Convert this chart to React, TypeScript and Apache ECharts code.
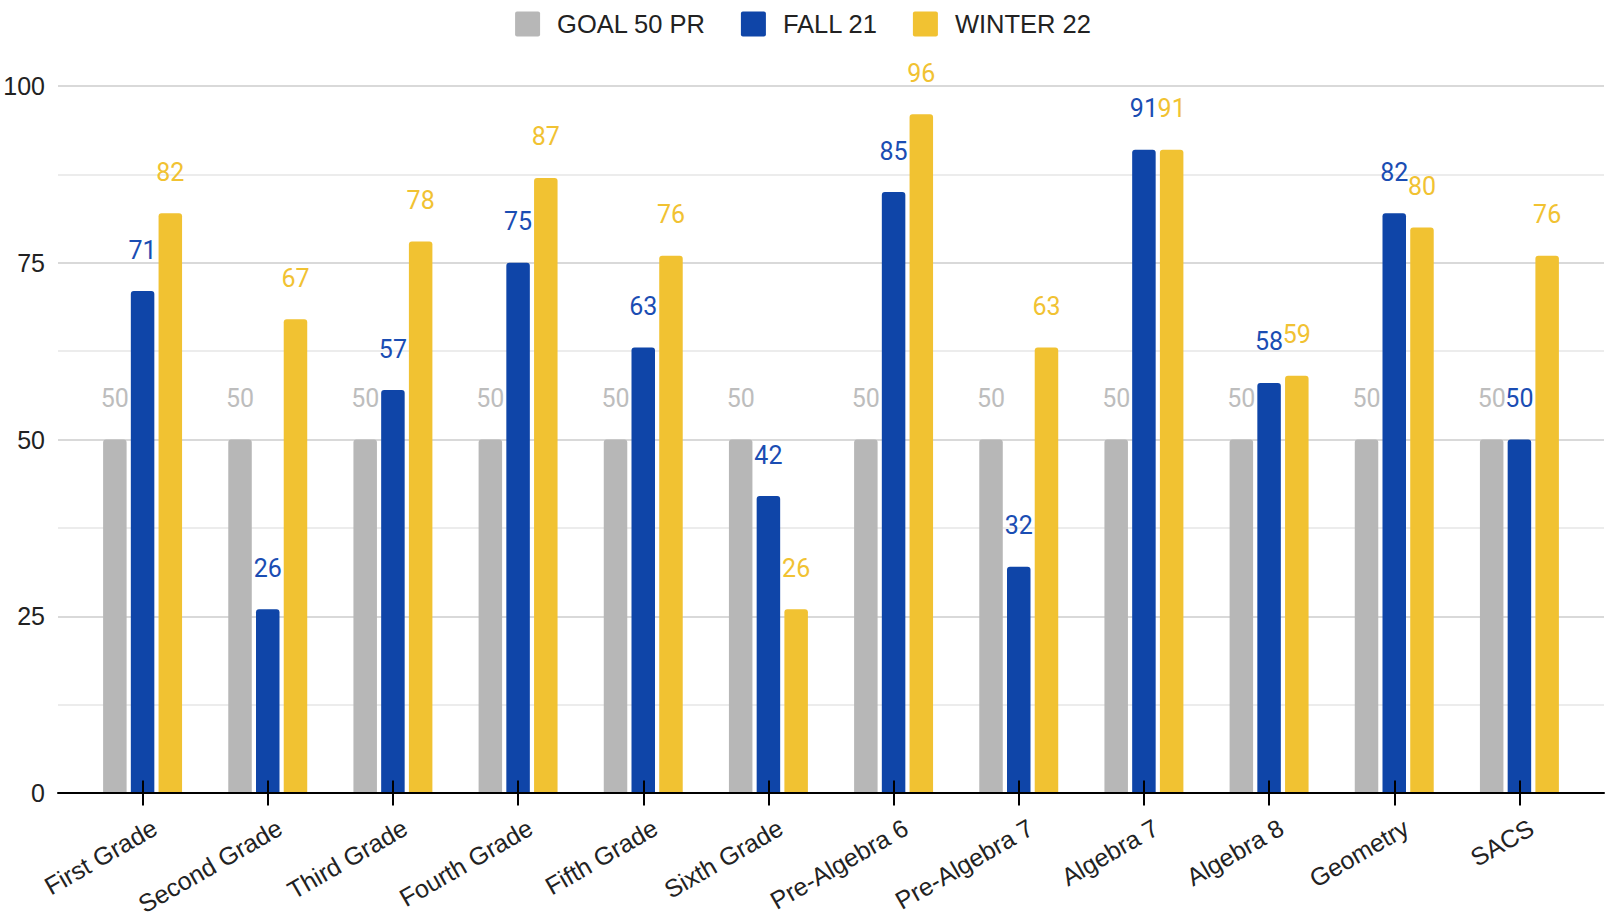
import React, { useEffect, useRef } from "react";
import * as echarts from "echarts";

const categories = [
  "First Grade", "Second Grade", "Third Grade", "Fourth Grade", "Fifth Grade", "Sixth Grade",
  "Pre-Algebra 6", "Pre-Algebra 7", "Algebra 7", "Algebra 8", "Geometry", "SACS",
];
const goal = [50, 50, 50, 50, 50, 50, 50, 50, 50, 50, 50, 50];
const fall21 = [71, 26, 57, 75, 63, 42, 85, 32, 91, 58, 82, 50];
const winter22 = [82, 67, 78, 87, 76, 26, 96, 63, 91, 59, 80, 76];
const seriesNames = ["GOAL 50 PR", "FALL 21", "WINTER 22"];

const GREY = "#b7b7b7";
const BLUE = "#0f45a8";
const YELLOW = "#f1c232";

const ICON = "path://M2,0 H23 Q25,0 25,2 V23 Q25,25 23,25 H2 Q0,25 0,23 V2 Q0,0 2,0 Z";

export default function App() {
  const ref = useRef<HTMLDivElement>(null);
  useEffect(() => {
    if (!ref.current) return;
    const chart = echarts.init(ref.current, undefined, { renderer: "svg" });
    const barCommon = (name: string, data: number[], color: string, labelColor: string) => ({
      name,
      type: "bar",
      xAxisIndex: 1,
      yAxisIndex: 1,
      data,
      barWidth: 23.5,
      barGap: "18%",
      itemStyle: { color, borderRadius: [3, 3, 0, 0] },
      label: {
        show: true,
        position: "top",
        distance: 28.5,
        color: labelColor,
        fontSize: 25,
        fontFamily: "Roboto",
      },
    });
    chart.setOption({
      animation: false,
      legend: {
        top: 6,
        left: "center",
        itemWidth: 25,
        itemHeight: 25,
        itemGap: 35,
        icon: ICON,
        data: seriesNames,
        textStyle: { fontSize: 25.5, color: "#222", fontFamily: "Liberation Sans", padding: [0, 0, 0, 12] },
      },
      grid: [
        { left: 58, right: 2, top: 86, bottom: 126, outerBoundsMode: "none", containLabel: false },
        { left: 80, right: 24, top: 86, bottom: 126, outerBoundsMode: "none", containLabel: false },
      ],
      xAxis: [
        {
          gridIndex: 0,
          type: "category",
          data: [""],
          axisLine: { show: true, lineStyle: { color: "#000", width: 2 } },
          axisTick: { show: false },
          axisLabel: { show: false },
          z: 5,
        },
        {
          gridIndex: 1,
          type: "category",
          data: categories,
          offset: -12.5,
          axisLine: { show: false },
          axisTick: { show: true, alignWithLabel: true, length: 25, lineStyle: { color: "#000", width: 2 } },
          axisLabel: {
            rotate: 30,
            margin: 52,
            fontSize: 25,
            color: "#222",
            fontFamily: "Liberation Sans",
            interval: 0,
            padding: [0, -14, 0, 0],
          },
          z: 6,
        },
      ],
      yAxis: [
        {
          gridIndex: 0,
          type: "value",
          min: 0,
          max: 100,
          interval: 25,
          axisLine: { show: false },
          axisTick: { show: false },
          axisLabel: { fontSize: 25, color: "#222", margin: 13, fontFamily: "Liberation Sans" },
          splitLine: { show: true, lineStyle: { color: "#cccccc", width: 1.5 } },
          minorTick: { show: false, splitNumber: 2 },
          minorSplitLine: { show: true, lineStyle: { color: "#e6e6e6", width: 1.5 } },
        },
        {
          gridIndex: 1,
          type: "value",
          min: 0,
          max: 100,
          show: false,
          splitLine: { show: false },
        },
      ],
      series: [
        barCommon(seriesNames[0], goal, GREY, "#bdbdbd"),
        barCommon(seriesNames[1], fall21, BLUE, "#1a4db3"),
        barCommon(seriesNames[2], winter22, YELLOW, "#f1c232"),
      ],
    });
    return () => chart.dispose();
  }, []);
  return (
    <div
      ref={ref}
      style={{ position: "fixed", left: 0, top: 0, width: 1606, height: 919, background: "#fff" }}
    />
  );
}
